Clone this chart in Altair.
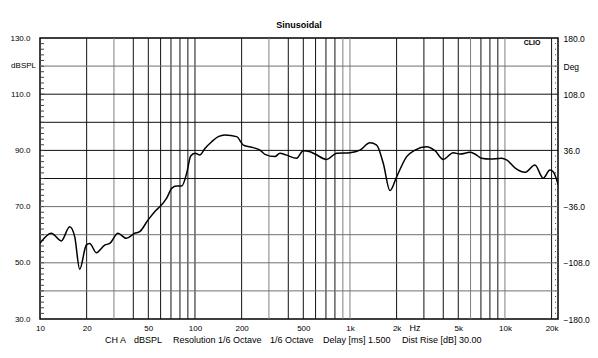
import altair as alt
import pandas as pd

# Frequency response
freq = [10.0, 11.83, 13.72, 15.54, 16.74, 18.04, 19.89, 20.93, 23.08, 26.15, 28.17,
        31.86, 36.05, 40.83, 43.98, 49.75, 56.28, 59.46, 65.67, 70.74, 76.19, 82.09,
        88.43, 93.83, 100.0, 107.7, 116.0, 128.2, 141.3, 156.2, 185.8, 205.0, 237.8,
        262.7, 282.8, 328.2, 353.5, 386.5, 453.1, 499.6, 552.1, 594.6, 707.4, 820.9,
        1000, 1160, 1346, 1487, 1640, 1812, 2001, 2322, 2627, 3124, 3535, 3999,
        4639, 5125, 5946, 6405, 7074, 8004, 9522, 10256, 11900, 13459, 15616,
        17667, 19513, 20492, 22077]
spl = [56.9, 60.5, 57.8, 62.8, 59.3, 47.7, 56.3, 56.9, 53.6, 56.3, 56.9,
       60.5, 58.7, 60.5, 61.1, 65.2, 68.8, 70.0, 73.0, 76.5, 77.3, 77.3,
       81.9, 88.0, 89.0, 88.4, 90.7, 93.1, 94.9, 95.5, 94.9, 91.9, 91.0,
       90.1, 88.6, 87.8, 89.0, 88.4, 87.2, 89.9, 89.5, 88.7, 86.8, 89.0,
       89.2, 90.1, 92.7, 91.9, 85.4, 75.7, 80.6, 87.8, 90.1, 91.3, 89.9, 86.8,
       89.2, 88.7, 89.3, 88.7, 87.2, 86.9, 87.2, 86.6, 83.3, 82.2, 84.8,
       80.1, 83.0, 82.4, 77.7]

grid_x_black = [20, 40, 50, 60, 70, 80, 90, 100, 200, 400, 500, 600, 700, 800,
                2000, 3000, 4000, 5000, 7000, 8000, 9000, 20000]
grid_x_gray = [30, 300, 900, 1000, 6000, 10000]
grid_y_black = [80, 90, 100, 110]
grid_y_gray = [40, 50, 60, 70, 120]
minor_y = list(range(30, 131, 2))
x_labels = [10, 20, 50, 100, 200, 500, 1000, 2000, 5000, 10000, 20000]
y_labels = [30, 50, 70, 90, 110, 130]
right_labels = [30, 50, 70, 90, 110, 120, 130]
footer = ["CH A", "dBSPL", "Resolution 1/6 Octave", "1/6 Octave", "Delay [ms] 1.500",
          "Dist Rise [dB] 30.00"]
footer_x = [65, 94, 133, 230, 283, 362]

FONT = "Liberation Sans"
W, H = 518, 281
xs = alt.Scale(type="log", domain=[10, 22000])
ys = alt.Scale(domain=[30, 130])

df = pd.DataFrame({"freq": freq, "spl": spl})

def vrules(vals, color):
    return alt.Chart(pd.DataFrame({"f": vals})).mark_rule(color=color, strokeWidth=1).encode(
        x=alt.X("f:Q", scale=xs, axis=None))

def hrules(vals, color):
    return alt.Chart(pd.DataFrame({"v": vals})).mark_rule(color=color, strokeWidth=1).encode(
        y=alt.Y("v:Q", scale=ys, axis=None))

minor_df = pd.DataFrame({"v": minor_y})
minor_left = alt.Chart(minor_df).mark_rule(color="#444", strokeWidth=1).encode(
    x=alt.value(1), x2=alt.value(4), y=alt.Y("v:Q", scale=ys, axis=None))
minor_right = alt.Chart(minor_df).mark_rule(color="#444", strokeWidth=1, strokeDash=[1, 1]).encode(
    x=alt.value(W - 3), x2=alt.value(W - 1), y=alt.Y("v:Q", scale=ys, axis=None))

line = alt.Chart(df).mark_line(color="black", strokeWidth=1.5, interpolate="monotone", clip=True).encode(
    x=alt.X("freq:Q", scale=xs, title=None,
            axis=alt.Axis(values=x_labels, ticks=False, domain=False, grid=False,
                          labelFlush=False, labelOverlap=False, labelPadding=5,
                          labelExpr="datum.value >= 1000 ? (datum.value/1000) + 'k' : datum.value")),
    y=alt.Y("spl:Q", scale=ys, title=None,
            axis=alt.Axis(orient="left", values=y_labels, format=".1f", ticks=False, domain=False,
                          grid=False, labelFlush=False, labelOverlap=False, labelPadding=10)),
)

right_axis = alt.Chart(pd.DataFrame({"r": [30, 130]})).mark_point(opacity=0).encode(
    y=alt.Y("r:Q", scale=ys, title=None,
            axis=alt.Axis(orient="right", values=right_labels, ticks=False, domain=False, grid=False,
                          labelFlush=False, labelOverlap=False, labelPadding=5, labelFontSize=8.5,
                          labelExpr="datum.value == 120 ? 'Deg' : format((datum.value - 80) * 3.6, '.1f')")))

def txt(s, x, y, align="center", size=8, weight="normal"):
    return alt.Chart(pd.DataFrame({"t": [s]})).mark_text(
        font=FONT, fontSize=size, fontWeight=weight, align=align, baseline="middle", color="black"
    ).encode(text="t:N", x=alt.value(x), y=alt.value(y))

dbspl = alt.Chart(pd.DataFrame({"v": [120], "t": ["dBSPL"]})).mark_text(
    font=FONT, fontSize=8, align="right", baseline="middle", color="black").encode(
    text="t:N", x=alt.value(-4), y=alt.Y("v:Q", scale=ys, axis=None))

footer_layers = [txt(s, x, 21 + H, align="left", size=9) for s, x in zip(footer, footer_x)]

chart = alt.layer(
    vrules(grid_x_gray, "#808080"),
    vrules(grid_x_black, "#111"),
    hrules(grid_y_gray, "#707070"),
    hrules(grid_y_black, "#111"),
    minor_left, minor_right,
    line, right_axis, dbspl,
    txt("Sinusoidal", W / 2, -13, size=9, weight="bold"),
    txt("CLIO", 492, 5, weight="bold", size=7),
    txt("Hz", 375, 9 + H, size=9),
    *footer_layers,
).resolve_scale(x="shared", y="shared").resolve_axis(x="independent", y="independent").properties(
    width=W, height=H,
    padding={"left": 32, "top": 30, "right": 32, "bottom": 32},
    autosize=alt.AutoSizeParams(type="none"),
).configure_view(stroke="black", strokeWidth=1.5).configure_axis(
    labelFont=FONT, labelFontSize=8, labelColor="black"
)

chart.save("out.html", embed_options={"renderer": "svg", "actions": False})
